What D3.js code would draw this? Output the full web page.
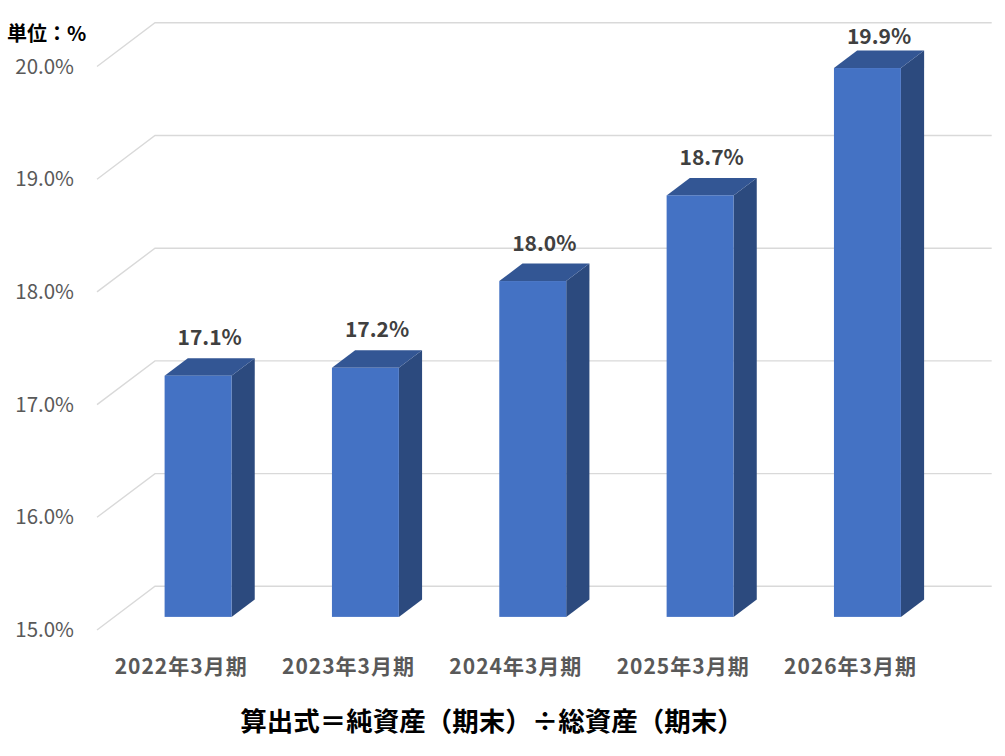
<!DOCTYPE html>
<html>
<head>
<meta charset="utf-8">
<script src="https://cdn.jsdelivr.net/npm/d3@7"></script>
<style>
  body { margin: 0; background: #fff; }
  text { font-family: "Noto Sans CJK JP", "Noto Sans", sans-serif; }
</style>
</head>
<body>
<script>
// data
var categories = ["2022年3月期", "2023年3月期", "2024年3月期", "2025年3月期", "2026年3月期"];
var ratios = [17.14, 17.21, 17.98, 18.74, 19.87];
var yTicks = [15, 16, 17, 18, 19, 20];

var W = 1005, H = 756;

var svg = d3.select("body")
            .append("svg")
            .attr("width", W)
            .attr("height", H);

// front plane scales, depth is an oblique offset
var x = d3.scaleBand().domain(categories).range([97, 933.7]).padding(0);
var y = d3.scaleLinear().domain([15, 20]).range([630, 66.5]);
var DX = 58, DY = 43.7;        // full depth of the box
var d0 = 0.3, d1 = 0.7;        // bar front / back depth
var barFrac = 0.4;             // bar width relative to band

function pt(px, v, d) { return [px + d * DX, y(v) - d * DY]; }

// gridlines: slanted side + back wall
var grid = svg.append("g");
yTicks.forEach(function (t) {
  var a = pt(x.range()[0], t, 0), b = pt(x.range()[0], t, 1), c = pt(x.range()[1], t, 1);
  grid.append("path")
      .attr("d", d3.line()([a, b, c]))
      .attr("fill", "none")
      .attr("stroke", "#d9d9d9")
      .attr("stroke-width", 1.4);
});

// y tick labels
svg.append("g").selectAll("text")
   .data(yTicks)
   .enter().append("text")
   .attr("x", 74)
   .attr("y", function (d) { return y(d); })
   .attr("dy", "0.35em")
   .attr("text-anchor", "end")
   .attr("font-size", 20.5)
   .attr("fill", "#595959")
   .text(function (d) { return d.toFixed(1) + "%"; });

// bars
var bars = svg.append("g").selectAll("g")
   .data(categories)
   .enter().append("g");

bars.each(function (c, i) {
  var g = d3.select(this);
  var v = ratios[i];
  var xl = x(c) + x.bandwidth() * (1 - barFrac) / 2;
  var xr = xl + x.bandwidth() * barFrac;
  var line = d3.line();

  // right side
  g.append("path")
   .attr("d", line([pt(xr, 15, d0), pt(xr, 15, d1), pt(xr, v, d1), pt(xr, v, d0)]) + "Z")
   .attr("fill", "#2c4a7e");
  // top
  g.append("path")
   .attr("d", line([pt(xl, v, d0), pt(xl, v, d1), pt(xr, v, d1), pt(xr, v, d0)]) + "Z")
   .attr("fill", "#335694");
  // front
  var f0 = pt(xl, v, d0), f1 = pt(xr, 15, d0);
  g.append("rect")
   .attr("x", f0[0])
   .attr("y", f0[1])
   .attr("width", f1[0] - f0[0])
   .attr("height", f1[1] - f0[1])
   .attr("fill", "#4472c4");

  // value label (kept inside the chart area at the top)
  var top = pt((xl + xr) / 2, v, (d0 + d1) / 2);
  g.append("text")
   .attr("x", top[0])
   .attr("y", Math.max(pt(xl, v, d1)[1] - 13, 43.5))
   .attr("text-anchor", "middle")
   .attr("font-size", 21)
   .attr("font-weight", "bold")
   .attr("fill", "#404040")
   .text(v.toFixed(1) + "%");
});

// category labels
svg.append("g").selectAll("text")
   .data(categories)
   .enter().append("text")
   .attr("x", function (d) { return x(d) + x.bandwidth() / 2 + 0.5; })
   .attr("y", 674)
   .attr("text-anchor", "middle")
   .attr("font-size", 21)
   .attr("letter-spacing", 1)
   .attr("font-weight", "bold")
   .attr("fill", "#595959")
   .text(function (d) { return d; });

// unit
svg.append("text")
   .attr("x", 7)
   .attr("y", 41)
   .attr("font-size", 20)
   .attr("font-weight", "bold")
   .attr("fill", "#000")
   .text("単位：%");

// formula
svg.append("text")
   .attr("x", 492)
   .attr("y", 731)
   .attr("text-anchor", "middle")
   .attr("font-size", 26.5)
   .attr("font-weight", "bold")
   .attr("fill", "#000")
   .text("算出式＝純資産（期末）÷総資産（期末）");
</script>
</body>
</html>
